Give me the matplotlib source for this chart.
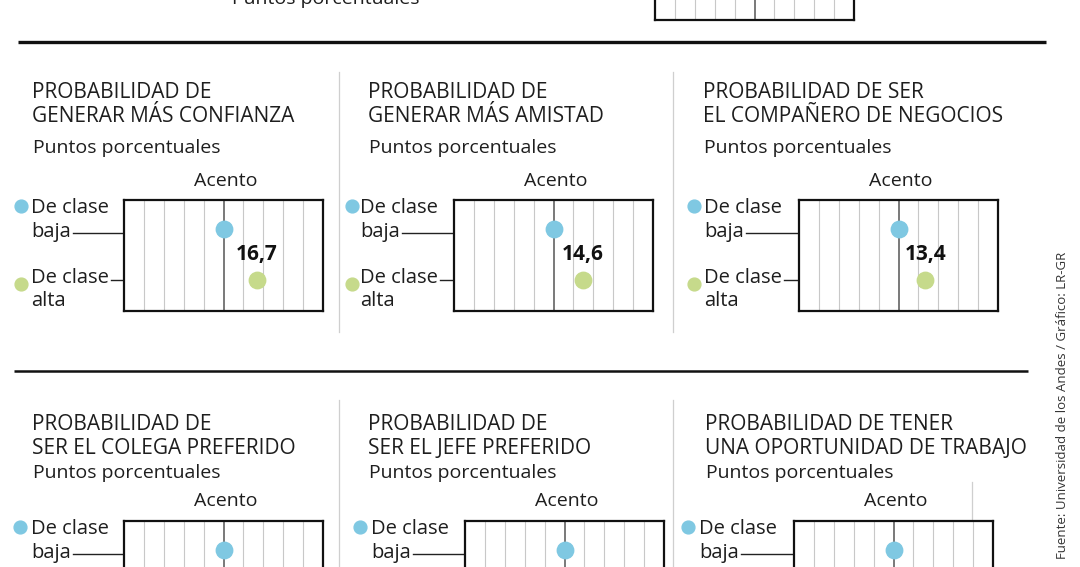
import numpy as np
import matplotlib.pyplot as plt

plt.rcParams['font.family'] = ['Open Sans', 'DejaVu Sans']

# data
titles = [
    ["PROBABILIDAD DE", "GENERAR MÁS CONFIANZA"],
    ["PROBABILIDAD DE", "GENERAR MÁS AMISTAD"],
    ["PROBABILIDAD DE SER", "EL COMPAÑERO DE NEGOCIOS"],
    ["PROBABILIDAD DE", "SER EL COLEGA PREFERIDO"],
    ["PROBABILIDAD DE", "SER EL JEFE PREFERIDO"],
    ["PROBABILIDAD DE TENER", "UNA OPORTUNIDAD DE TRABAJO"],
]
subtitle = "Puntos porcentuales"
axis_title = "Acento"
group_baja = ["De clase", "baja"]
group_alta = ["De clase", "alta"]
baja = [0, 0, 0, 0, 0, 0]
alta = [16.7, 14.6, 13.4, None, None, None]   # bottom row values are cut off in the picture
labels = ["16,7", "14,6", "13,4", "", "", ""]
source = "Fuente: Universidad de los Andes / Gráfico: LR-GR"

# layout in pixels (x, y from top)
W, H = 1080, 567
title_x = [32, 368, 703, 32, 368, 705]
box_x = [124, 454, 799, 124, 465, 794]
dot_x = [21, 352, 694, 20, 360, 688]
leg_x = [31, 360, 704, 31, 371, 699]
row_title_y = [93, 424]
row_sub_y = [148, 473]
row_acento_y = [181, 501]
row_box_y = [200, 521]
box_w, box_h = 199, 111

blue = "#7fc8e2"
green = "#c6da8b"
grid_c = "#c8c8c8"
sep_c = "#cfcfcf"
txt_c = "#1e1e1e"

fig = plt.figure(figsize=(W / 100, H / 100), dpi=100)
ov = fig.add_axes([0, 0, 1, 1])
ov.set_xlim(0, W)
ov.set_ylim(H, 0)
ov.axis("off")


def make_box(x0, y0):
    b = fig.add_axes([x0 / W, 1 - (y0 + box_h) / H, box_w / W, box_h / H])
    b.set_xlim(-50, 50)
    b.set_ylim(0, 1)
    for xv in np.arange(-40, 50, 10):
        b.axvline(xv, color="#555555" if xv == 0 else grid_c,
                  lw=1.1 if xv == 0 else 0.8, zorder=1)
    b.set_xticks([])
    b.set_yticks([])
    for s in b.spines.values():
        s.set_linewidth(1.6)
        s.set_color("#111111")
    return b


# top partial panel (cut off)
ov.text(232, 4, subtitle, fontsize=14, color=txt_c, va="baseline")
make_box(655, 20 - box_h)

# separators
ov.plot([18, 1046], [42, 42], color="#111111", lw=2.4, solid_capstyle="butt")
ov.plot([14, 1028], [371, 371], color="#111111", lw=1.8, solid_capstyle="butt")
for sx in [339, 673]:
    ov.plot([sx, sx], [72, 332], color=sep_c, lw=0.9)
    ov.plot([sx, sx], [400, H], color=sep_c, lw=0.9)
ov.plot([972, 972], [482, H], color=sep_c, lw=0.9)

fig.canvas.draw()
rend = fig.canvas.get_renderer()

for i in range(6):
    r = i // 3
    ty = row_title_y[r]
    ov.text(title_x[i], ty, titles[i][0], fontsize=15, color=txt_c, va="center")
    ov.text(title_x[i], ty + 24, titles[i][1], fontsize=15, color=txt_c, va="center")
    ov.text(title_x[i] + 1, row_sub_y[r], subtitle, fontsize=14, color=txt_c,
            va="center")
    bx, by = box_x[i], row_box_y[r]
    ov.text(bx + box_w / 2 + 2, row_acento_y[r], axis_title, fontsize=14,
            color=txt_c, ha="center", va="center")

    b = make_box(bx, by)
    b.scatter([baja[i]], [0.74], s=140, color=blue, zorder=3, clip_on=False)
    if alta[i] is not None:
        b.scatter([alta[i]], [0.28], s=140, color=green, zorder=3, clip_on=False)
        b.text(alta[i], 0.51, labels[i], fontsize=15, fontweight="bold",
               ha="center", va="center", color="#111111")

    # legend with connector lines
    ov.scatter([dot_x[i]], [by + 6], s=85, color=blue, zorder=3)
    ov.text(leg_x[i], by + 8, group_baja[0], fontsize=14.5, color=txt_c, va="center")
    tb = ov.text(leg_x[i], by + 32, group_baja[1], fontsize=14.5, color=txt_c, va="center")
    ov.scatter([dot_x[i]], [by + 84], s=85, color=green, zorder=3)
    ta = ov.text(leg_x[i], by + 78, group_alta[0], fontsize=14.5, color=txt_c, va="center")
    ov.text(leg_x[i], by + 101, group_alta[1], fontsize=14.5, color=txt_c, va="center")
    e = tb.get_window_extent(rend)
    ov.plot([e.x1 + 2, bx], [by + 33, by + 33], color="#222222", lw=1)
    e = ta.get_window_extent(rend)
    ov.plot([e.x1 + 2, bx], [by + 80, by + 80], color="#222222", lw=1)

ov.text(1062, 405, source, fontsize=9.5, color="#333333", rotation=90,
        ha="center", va="center")

fig.savefig("out.png", dpi=100)
